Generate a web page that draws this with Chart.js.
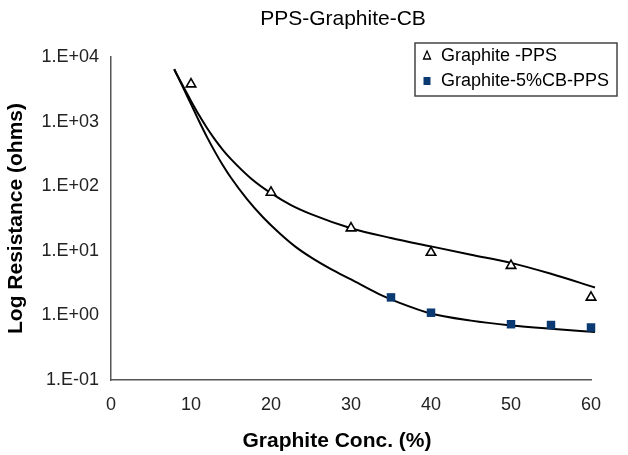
<!DOCTYPE html>
<html>
<head>
<meta charset="utf-8">
<script src="https://cdn.jsdelivr.net/npm/chart.js@4.4.1/dist/chart.umd.min.js"></script>
<style>
  html, body { margin: 0; padding: 0; background: #fff; }
  #wrap { width: 628px; height: 455px; }
</style>
</head>
<body>
<div id="wrap"><canvas id="resChart" width="628" height="455"></canvas></div>
<script>
// measured points
const graphiteX = [10, 20, 30, 40, 50, 60];
const graphiteRes = [3800, 80, 22.4, 9.4, 5.9, 1.9];
const cbX = [35, 40, 50, 55, 60];
const cbRes = [1.9, 1.1, 0.73, 0.71, 0.65];

// trend lines
const fitGraphiteX = [7.9, 9, 10, 11, 12, 13, 14, 15, 17.5, 20, 22.5, 25, 30, 35, 40, 45, 50, 55, 60.5];
const fitGraphiteRes = [6450, 3550, 2090, 1260, 795, 525, 363, 263, 132, 78, 51, 37, 22.4, 15.8, 11.7, 8.7, 6.5, 4.4, 2.7];
const fitCbX = [7.9, 9, 10, 11, 12, 13, 14, 15, 17, 19, 21, 23, 25, 27.5, 30, 33.5, 36, 40, 45, 50, 55, 60.5];
const fitCbRes = [6450, 3390, 1860, 1020, 575, 340, 209, 135, 63, 33, 19, 11.7, 7.9, 5.2, 3.6, 2.14, 1.58, 1.07, 0.83, 0.70, 0.62, 0.553];

const yTicks = [0.1, 1, 10, 100, 1000, 10000];
const yTickLabels = ["1.E-01", "1.E+00", "1.E+01", "1.E+02", "1.E+03", "1.E+04"];
const xTicks = [0, 10, 20, 30, 40, 50, 60];

const legendLabels = ["Graphite -PPS", "Graphite-5%CB-PPS"];
const chartTitle = "PPS-Graphite-CB";
const xTitle = "Graphite Conc. (%)";

const FONT = "'Liberation Sans', Arial, sans-serif";
const NAVY = "#0b3a73";
const pts = (xs, ys) => xs.map((x, i) => ({ x: x, y: ys[i] }));

// titles + boxed legend, Excel style (Excel centres these on the whole chart, not the axis)
const decorations = {
    id: "decorations",
    afterDraw(chart) {
        const c = chart.ctx;
        c.save();
        c.fillStyle = "#000";
        c.textAlign = "center";
        c.textBaseline = "middle";
        c.font = "21px " + FONT;
        c.fillText(chartTitle, 343, 19);
        c.font = "bold 21px " + FONT;
        c.fillText(xTitle, 337, 441);

        // legend box
        const bx = 415, by = 43, bw = 202, bh = 53;
        c.strokeStyle = "#444";
        c.lineWidth = 1.5;
        c.strokeRect(bx, by, bw, bh);
        c.font = "18px " + FONT;
        c.textAlign = "left";
        c.fillStyle = "#000";
        c.fillText(legendLabels[0], bx + 26, by + 13);
        c.fillText(legendLabels[1], bx + 26, by + 38);
        // triangle marker
        c.beginPath();
        c.moveTo(bx + 12, by + 8);
        c.lineTo(bx + 15.5, by + 16);
        c.lineTo(bx + 8.5, by + 16);
        c.closePath();
        c.lineWidth = 1.3;
        c.strokeStyle = "#000";
        c.stroke();
        c.fillStyle = NAVY;
        c.fillRect(bx + 8.5, by + 34, 7, 8);
        c.restore();
    }
};

new Chart(document.getElementById("resChart"), {
    type: "scatter",
    data: {
        datasets: [
            {
                label: legendLabels[0],
                data: pts(graphiteX, graphiteRes),
                pointStyle: "triangle",
                pointRadius: 5.5,
                pointBackgroundColor: "#fff",
                pointBorderColor: "#000",
                pointBorderWidth: 1.6,
                showLine: false,
                order: 1
            },
            {
                label: legendLabels[1],
                data: pts(cbX, cbRes),
                pointStyle: "rect",
                pointRadius: 6,
                pointBackgroundColor: NAVY,
                pointBorderColor: NAVY,
                pointBorderWidth: 0,
                showLine: false,
                order: 1
            },
            {
                label: "fit1",
                data: pts(fitGraphiteX, fitGraphiteRes),
                showLine: true,
                borderColor: "#000",
                borderWidth: 2,
                pointRadius: 0,
                cubicInterpolationMode: "monotone",
                order: 2
            },
            {
                label: "fit2",
                data: pts(fitCbX, fitCbRes),
                showLine: true,
                borderColor: "#000",
                borderWidth: 2,
                pointRadius: 0,
                cubicInterpolationMode: "monotone",
                order: 2
            }
        ]
    },
    options: {
        responsive: false,
        animation: false,
        clip: false,
        layout: { padding: { top: 57, right: 37, left: 0, bottom: 0 } },
        plugins: {
            legend: { display: false },
            tooltip: { enabled: false }
        },
        scales: {
            x: {
                type: "linear",
                min: 0,
                max: 60,
                afterBuildTicks: (s) => { s.ticks = xTicks.map((v) => ({ value: v })); },
                afterFit: (s) => { s.height = 75; },
                grid: { display: false, drawOnChartArea: false, drawTicks: true, tickLength: 5, color: "#555" },
                border: { color: "#555", width: 1.5 },
                ticks: { color: "#222", font: { family: FONT, size: 18 }, padding: 9, maxRotation: 0 }
            },
            y: {
                type: "logarithmic",
                min: 0.1,
                max: 10000,
                afterBuildTicks: (s) => { s.ticks = yTicks.map((v) => ({ value: v })); },
                afterFit: (s) => { s.width = 111; },
                grid: { display: false, drawOnChartArea: false, drawTicks: true, tickLength: 5, color: "#555" },
                border: { color: "#555", width: 1.5 },
                ticks: {
                    color: "#222",
                    font: { family: FONT, size: 18 },
                    padding: 7,
                    callback: (v) => {
                        const i = yTicks.findIndex((t) => Math.abs(t - v) / t < 1e-6);
                        return i >= 0 ? yTickLabels[i] : "";
                    }
                },
                title: {
                    display: true,
                    text: "Log Resistance (ohms)",
                    color: "#000",
                    font: { family: FONT, size: 21, weight: "bold" },
                    padding: { bottom: 4 }
                }
            }
        }
    },
    plugins: [decorations]
});
</script>
</body>
</html>
